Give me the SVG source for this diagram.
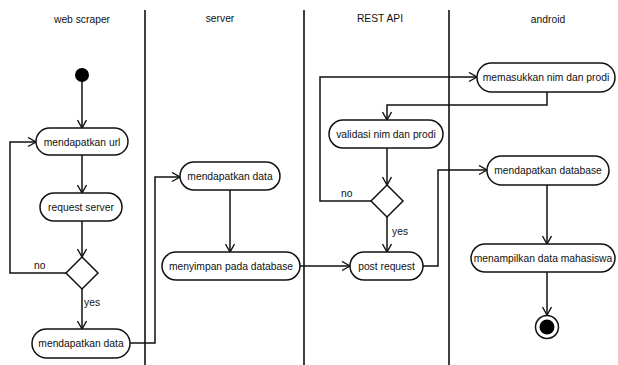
<svg xmlns="http://www.w3.org/2000/svg" width="618" height="365" viewBox="0 0 618 365">
<style>
text{font-family:"Liberation Sans",Arial,sans-serif;font-size:10.3px;fill:#111}
.t{text-anchor:middle}
.lane{stroke:#111;stroke-width:1.6}
.n{fill:#fff;stroke:#111;stroke-width:1.5}
.c{fill:none;stroke:#111;stroke-width:1.5;marker-end:url(#a)}
</style>
<defs>
<marker id="a" markerUnits="userSpaceOnUse" markerWidth="12" markerHeight="12" refX="9" refY="5" orient="auto">
<path d="M1,0.5 L9,5 L1,9.5" fill="none" stroke="#111" stroke-width="1.4"/>
</marker>
</defs>
<rect width="618" height="365" fill="#fff"/>
<g id="lanes">
<line class="lane" x1="145" y1="10" x2="145" y2="365"/>
<line class="lane" x1="304" y1="10" x2="304" y2="365"/>
<line class="lane" x1="449" y1="10" x2="449" y2="365"/>
<text class="t" x="82" y="23">web scraper</text>
<text class="t" x="220" y="22">server</text>
<text class="t" x="380" y="22">REST API</text>
<text class="t" x="548" y="23">android</text>
</g>
<g id="connectors">
<path class="c" d="M82,82 V128"/>
<path class="c" d="M82,155 V193"/>
<path class="c" d="M82,221 V257"/>
<path class="c" d="M66,273 H10 V142 H36"/>
<path class="c" d="M82,289 V329"/>
<path class="c" d="M130,343 H155 V177 H180"/>
<path class="c" d="M230,190 V252"/>
<path class="c" d="M300,266 H350"/>
<path class="c" d="M423,266 H438 V170 H487"/>
<path class="c" d="M371,201 H320 V77 H477"/>
<path class="c" d="M547,92 V105 H387 V120"/>
<path class="c" d="M387,148 V185"/>
<path class="c" d="M387,217 V252"/>
<path class="c" d="M547,185 V244"/>
<path class="c" d="M547,272 V315"/>
<text x="34" y="269">no</text>
<text x="84" y="306">yes</text>
<text x="341" y="197">no</text>
<text x="392" y="235">yes</text>
</g>
<g id="start"><circle cx="82" cy="75" r="7" fill="#000"/></g>
<g id="n1"><rect class="n" x="36" y="128" width="92" height="27" rx="13.5"/><text class="t" x="82" y="145.5">mendapatkan url</text></g>
<g id="n2"><rect class="n" x="40" y="193" width="82" height="28" rx="14"/><text class="t" x="81" y="210.5">request server</text></g>
<g id="d1"><polygon class="n" points="82,257 98,273 82,289 66,273"/></g>
<g id="n3"><rect class="n" x="32" y="329" width="98" height="29" rx="14.5"/><text class="t" x="81" y="347">mendapatkan data</text></g>
<g id="n4"><rect class="n" x="180" y="162" width="100" height="28" rx="14"/><text class="t" x="230" y="179.5">mendapatkan data</text></g>
<g id="n5"><rect class="n" x="162" y="252" width="138" height="28" rx="14"/><text class="t" x="231" y="269.5">menyimpan pada database</text></g>
<g id="n6"><rect class="n" x="350" y="252" width="73" height="28" rx="14"/><text class="t" x="386.5" y="269.5">post request</text></g>
<g id="n7"><rect class="n" x="329" y="120" width="114" height="28" rx="14"/><text class="t" x="386" y="137.5">validasi nim dan prodi</text></g>
<g id="d2"><polygon class="n" points="387,185 403,201 387,217 371,201"/></g>
<g id="n8"><rect class="n" x="477" y="63" width="138" height="29" rx="14.5"/><text class="t" x="546" y="81">memasukkan nim dan prodi</text></g>
<g id="n9"><rect class="n" x="487" y="156" width="122" height="29" rx="14.5"/><text class="t" x="548" y="174">mendapatkan database</text></g>
<g id="n10"><rect class="n" x="471" y="244" width="144" height="28" rx="14"/><text class="t" x="543" y="261.5">menampilkan data mahasiswa</text></g>
<g id="end"><circle cx="547" cy="327" r="11.5" fill="#fff" stroke="#111" stroke-width="1.5"/><circle cx="547" cy="327" r="7.5" fill="#000"/></g>
</svg>
